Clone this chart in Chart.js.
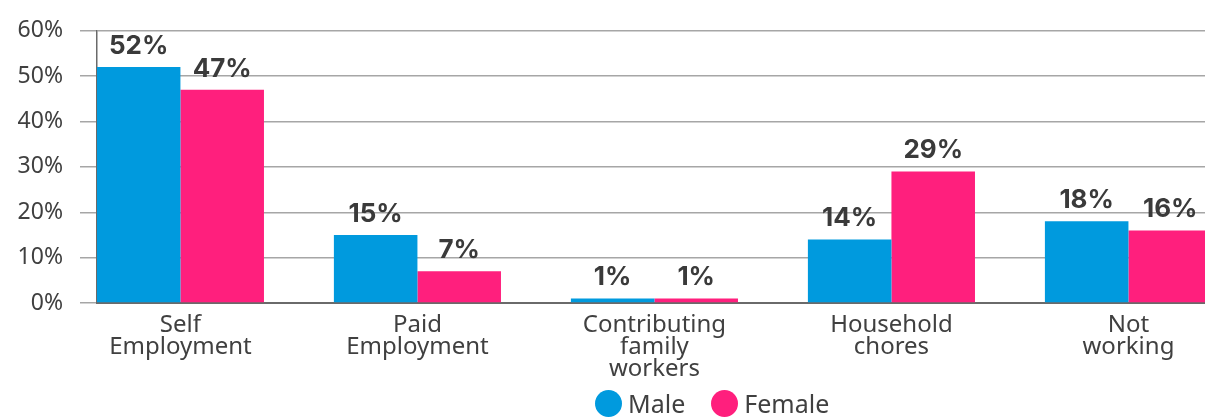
<!DOCTYPE html>
<html>
<head>
<meta charset="utf-8">
<script src="https://cdn.jsdelivr.net/npm/chart.js@4"></script>
<style>
  html, body { margin: 0; padding: 0; background: #fff; overflow: hidden; }
  #wrap { position: relative; width: 1205px; height: 420px; }
  #legend { position: absolute; left: 595px; top: 390px; display: flex; align-items: center;
            font-family: "Noto Sans", sans-serif; font-size: 25px; color: #404040; }
  #legend .item { display: flex; align-items: center; margin-right: 26px; line-height: 27px; }
  #legend .dot { width: 27px; height: 27px; border-radius: 50%; margin-right: 6px; }
</style>
</head>
<body>
<div id="wrap">
  <canvas id="grafico" width="1205" height="420"></canvas>
  <div id="legend"></div>
</div>
<script>
const categorias = [['Self', 'Employment'], ['Paid', 'Employment'], ['Contributing', 'family', 'workers'], ['Household', 'chores'], ['Not', 'working']];
const hombres = [52, 15, 1, 14, 18];
const mujeres = [47, 7, 1, 29, 16];
const nombresSeries = ['Male', 'Female'];
const coloresSeries = ['#009ade', '#ff1f7d'];
const ticksY = [0, 10, 20, 30, 40, 50, 60];

const puntos = (valores) => valores.map((v, i) => ({x: i, y: v}));

// etiquetas encima de cada barra
const etiquetas = {
  id: 'etiquetas',
  afterDatasetsDraw(chart) {
    const ctx = chart.ctx;
    ctx.save();
    ctx.font = 'bold 26px Inter, "Noto Sans", sans-serif';
    ctx.fillStyle = '#3a3a3a';
    ctx.textAlign = 'center';
    ctx.textBaseline = 'alphabetic';
    chart.data.datasets.forEach((ds, d) => {
      chart.getDatasetMeta(d).data.forEach((el, i) => {
        ctx.fillText(ds.data[i].y + '%', el.x, el.y - 13);
      });
    });
    ctx.restore();
  }
};

const ctx = document.getElementById('grafico');
const grafico = new Chart(ctx, {
  type: 'bar',
  data: {
    datasets: [
      {label: nombresSeries[0], data: puntos(hombres), backgroundColor: coloresSeries[0]},
      {label: nombresSeries[1], data: puntos(mujeres), backgroundColor: coloresSeries[1]}
    ]
  },
  options: {
    responsive: false,
    animation: false,
    categoryPercentage: 0.705,
    barPercentage: 1,
    layout: {padding: {top: 29, left: 0, right: 0, bottom: 0}},
    plugins: {legend: {display: false}, tooltip: {enabled: false}},
    scales: {
      x: {
        type: 'linear',
        offset: false,
        min: -0.352,
        max: 4.323,
        grid: {display: false, drawTicks: false, offset: false},
        border: {display: true, color: '#6a6a6a', width: 2},
        ticks: {
          stepSize: 1,
          includeBounds: false,
          autoSkip: false,
          maxRotation: 0,
          padding: 11,
          color: '#404040',
          font: {family: '"Noto Sans", sans-serif', size: 24, lineHeight: 0.92},
          callback: (v) => categorias[v] || ''
        },
        afterFit: (s) => { s.height = 117; }
      },
      y: {
        min: 0,
        max: 60,
        afterBuildTicks: (s) => { s.ticks = ticksY.map(v => ({value: v})); },
        grid: {color: '#a6a6a6', lineWidth: 1.5, tickLength: 17, drawTicks: true},
        border: {display: true, color: '#6a6a6a', width: 1.5},
        ticks: {
          padding: 17,
          color: '#404040',
          font: {family: '"Noto Sans", sans-serif', size: 23},
          callback: (v) => v + '%'
        },
        afterFit: (s) => { s.width = 97; }
      }
    }
  },
  plugins: [etiquetas]
});

const leyenda = document.getElementById('legend');
grafico.data.datasets.forEach((ds) => {
  const item = document.createElement('div');
  item.className = 'item';
  const dot = document.createElement('span');
  dot.className = 'dot';
  dot.style.background = ds.backgroundColor;
  const txt = document.createElement('span');
  txt.textContent = ds.label;
  item.appendChild(dot);
  item.appendChild(txt);
  leyenda.appendChild(item);
});
</script>
</body>
</html>
